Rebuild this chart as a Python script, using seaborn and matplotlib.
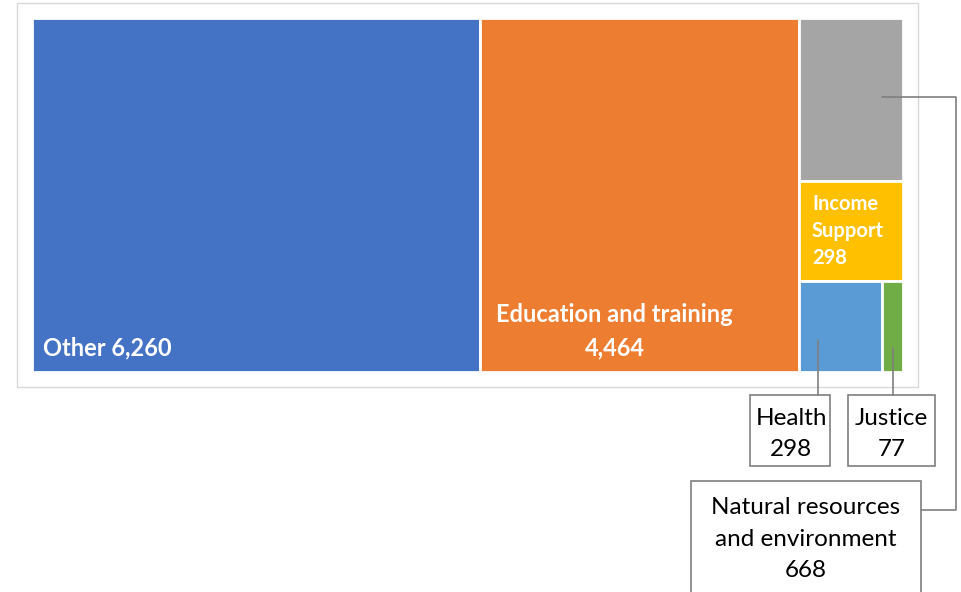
import matplotlib
matplotlib.use("Agg")
import matplotlib.pyplot as plt
from matplotlib.patches import Rectangle
import seaborn as sns

# ---- data ----
categories = ["Other", "Education and training", "Natural resources and environment",
              "Income Support", "Health", "Justice"]
values = [6260, 4464, 668, 298, 298, 77]          # values shown in the labels
# tile areas as drawn in the source (Income Support tile is drawn larger than its label)
sizes = [6260, 4464, 668, 410, 298, 77]
colors = ["#4472C4", "#ED7D31", "#A5A5A5", "#FFC000", "#5B9BD5", "#70AD47"]

sns.set_style("white")
plt.rcParams['font.family'] = ['Lato', 'DejaVu Sans']

fig = plt.figure(figsize=(9.61, 5.92), dpi=100)
ax = fig.add_axes([0, 0, 1, 1])
ax.set_xlim(0, 961)
ax.set_ylim(592, 0)
ax.axis("off")

# chart frame
ax.add_patch(Rectangle((17, 3), 901, 384, facecolor="white", edgecolor="#D9D9D9", lw=1))

# treemap area
X0, X1, Y0, Y1 = 32, 903, 18, 372
W, H = X1 - X0, Y1 - Y0
total = sum(sizes)

rects = {}
x = X0
# first two categories are full-height columns
for i in (0, 1):
    w = W * sizes[i] / total
    rects[i] = (x, Y0, w, H)
    x += w
# the rest share the last column
col_w = X1 - x
col_total = sum(sizes[2:])
y = Y0
for i in (2, 3):
    h = H * sizes[i] / col_total
    rects[i] = (x, y, col_w, h)
    y += h
row_h = Y1 - y
row_total = sizes[4] + sizes[5]
xx = x
for i in (4, 5):
    w = col_w * sizes[i] / row_total
    rects[i] = (xx, y, w, row_h)
    xx += w

for i, (rx, ry, rw, rh) in rects.items():
    ax.add_patch(Rectangle((rx, ry), rw, rh, facecolor=colors[i], edgecolor="white", lw=2))

# in-tile labels
bold = dict(color="white", fontweight="bold", fontsize=17)
rx, ry, rw, rh = rects[0]
ax.text(rx + 11, ry + rh - 24, f"{categories[0]} {values[0]:,}", ha="left", va="center", **bold)
rx, ry, rw, rh = rects[1]
ax.text(rx + 135, ry + rh - 41, f"Education and\u00a0training\n{values[1]:,}",
        ha="center", va="center", linespacing=1.52, **bold)
rx, ry, rw, rh = rects[3]
ax.text(rx + 13, ry + 50, f"Income\nSupport\n{values[3]}", ha="left", va="center",
        color="white", fontweight="bold", fontsize=14.5, linespacing=1.45)

# callouts
box_kw = dict(facecolor="white", edgecolor="#7F7F7F", lw=1.2)
line_kw = dict(color="#7F7F7F", lw=1.2)
txt_kw = dict(ha="center", va="center", fontsize=17.5, color="black", linespacing=1.6)

# Health
ax.add_patch(Rectangle((750, 395), 80, 71, **box_kw))
ax.plot([818, 818], [340, 395], **line_kw)
ax.text(791, 434, f"{categories[4]}\n{values[4]}", **txt_kw)
# Justice
ax.add_patch(Rectangle((848, 395), 87, 71, **box_kw))
ax.plot([893, 893], [348, 395], **line_kw)
ax.text(891.5, 434, f"{categories[5]}\n{values[5]}", **txt_kw)
# Natural resources
ax.add_patch(Rectangle((691, 481), 230, 130, **box_kw))
ax.plot([882, 956, 956, 921], [97, 97, 510, 510], **line_kw)
ax.text(806, 539, f"Natural resources\nand environment\n{values[2]}", **txt_kw)

fig.savefig("out.png", dpi=100)
